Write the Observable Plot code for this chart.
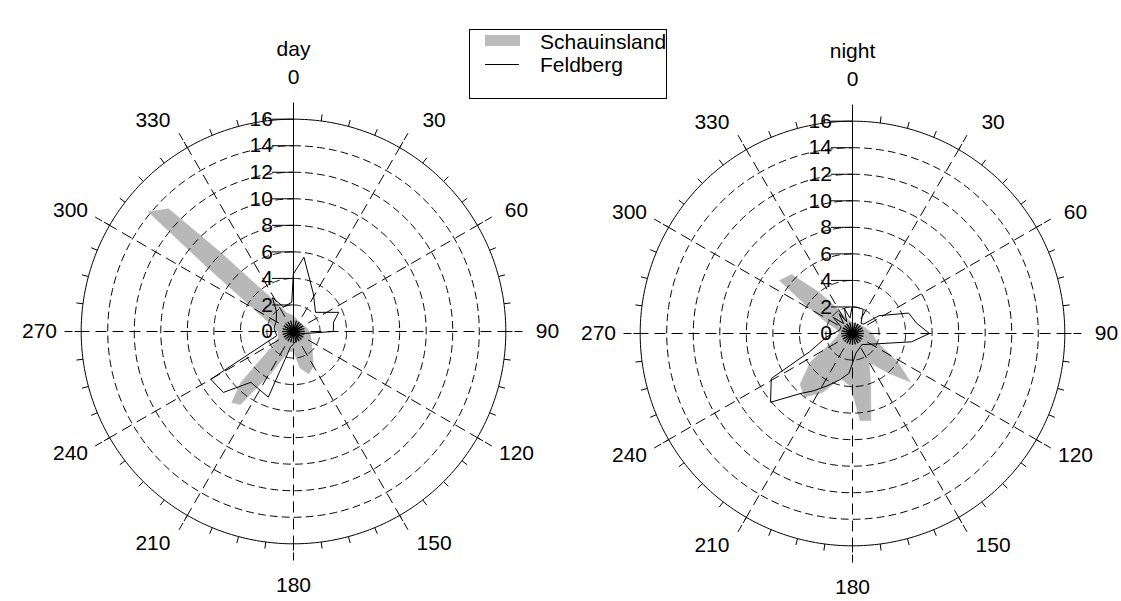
<!DOCTYPE html>
<html>
<head>
<meta charset="utf-8">
<script src="https://cdn.jsdelivr.net/npm/d3@7"></script>
<script src="https://cdn.jsdelivr.net/npm/@observablehq/plot@0.6"></script>
<style>
  body { margin: 0; background: #fff; font-family: "Liberation Sans", Arial, sans-serif; }
  #wrap { position: relative; width: 1121px; height: 601px; overflow: hidden; }
  #legend { position: absolute; left: 469px; top: 29px; width: 198px; height: 70px; border: 1px solid #000; background: #fff; box-sizing: border-box; }
  #legend .sw { position: absolute; left: 15px; top: 5px; width: 35px; height: 11px; background: #bcbcbc; }
  #legend .ln { position: absolute; left: 15px; top: 34px; width: 34px; height: 0; border-top: 1px solid #000; }
  #legend .t { position: absolute; left: 70px; font-size: 21px; line-height: 21px; color: #000; }
</style>
</head>
<body>
<div id="wrap"></div>
<script>
// ---- data ----
const panels = ["day", "night"];
const angleTickLabels = [0, 30, 60, 90, 120, 150, 180, 210, 240, 270, 300, 330];
const radialTickLabels = [0, 2, 4, 6, 8, 10, 12, 14, 16];
const legendLabels = ["Schauinsland", "Feldberg"];

// day – Schauinsland (filled)
const daySchauinslandDir = [0, 20, 45, 70, 90, 110, 135, 150, 160, 170, 180, 195, 208, 216, 221, 226, 235, 250, 270, 285, 297.5, 303.5, 306.6, 309.5, 314.5, 317.4, 320.5, 326.5, 340];
const daySchauinslandVal = [1.2, 0.9, 0.8, 1.0, 1.2, 1.4, 2.0, 3.0, 3.4, 2.8, 1.5, 1.6, 3.5, 6.8, 7.1, 5.5, 2.0, 1.2, 1.2, 1.6, 3.0, 5.0, 8.0, 14.2, 13.2, 8.0, 5.0, 3.0, 1.5];
// day – Feldberg (line)
const dayFeldbergDir = [0, 8, 28, 49, 67, 77, 90, 92, 110, 140, 170, 191, 201, 220, 229, 240, 256, 280, 300, 320, 328, 338, 350, 356];
const dayFeldbergVal = [4.35, 5.65, 3.2, 2.2, 3.7, 3.1, 3.0, 2.0, 0.5, 0.5, 0.8, 1.2, 5.3, 5.0, 7.0, 7.2, 1.3, 1.5, 1.5, 2.0, 3.0, 2.0, 2.1, 2.2];
// night – Schauinsland (filled)
const nightSchauinslandDir = [0, 30, 60, 90, 110, 122, 130, 138, 150, 160, 168, 175, 182, 195, 207, 217, 226, 236, 250, 270, 285, 292, 301, 306, 314, 321, 330, 340];
const nightSchauinslandVal = [0.8, 0.8, 1.0, 1.5, 2.0, 4.0, 5.7, 4.0, 2.5, 4.0, 6.7, 6.6, 4.0, 3.5, 5.0, 6.0, 5.5, 3.8, 1.5, 1.0, 1.2, 2.0, 4.0, 6.8, 6.4, 4.0, 2.0, 1.2];
// night – Feldberg (line)
const nightFeldbergDir = [0, 10, 24, 40, 50, 56, 70, 81, 90, 98, 140, 170, 185, 195, 206, 214, 221, 230, 241, 247, 262, 285, 300, 310, 318, 326, 334, 342, 350];
const nightFeldbergVal = [2.0, 2.0, 2.0, 1.0, 1.1, 2.4, 4.5, 4.9, 5.8, 4.5, 1.1, 1.5, 3.0, 3.6, 4.4, 5.2, 6.0, 8.06, 7.0, 3.5, 2.0, 1.0, 1.0, 1.9, 1.0, 1.8, 1.0, 2.0, 1.2];

// ---- layout ----
const k = 13.27;                 // px per unit
const W = 1121, H = 601;
const originPx = [293, 331];     // day panel centre in px
const centre = {day: [0, 0], night: [(852 - 293) / k, (331 - 333) / k]};
const rMax = 16, rSpoke = 229 / k, rTick = 16.5, rLabel = 254 / k;

const rad = d => d * Math.PI / 180;
const P = (panel, dir, r) => ({x: centre[panel][0] + r * Math.sin(rad(dir)), y: centre[panel][1] + r * Math.cos(rad(dir))});

const seriesList = [
  {panel: "day", name: "Schauinsland", dir: daySchauinslandDir, val: daySchauinslandVal},
  {panel: "day", name: "Feldberg", dir: dayFeldbergDir, val: dayFeldbergVal},
  {panel: "night", name: "Schauinsland", dir: nightSchauinslandDir, val: nightSchauinslandVal},
  {panel: "night", name: "Feldberg", dir: nightFeldbergDir, val: nightFeldbergVal}
];
const pts = seriesList.flatMap(s => s.dir.map((d, i) => ({...P(s.panel, d, s.val[i]), key: s.panel + "-" + s.name, name: s.name})));
const fillPts = pts.filter(p => p.name === "Schauinsland");
const linePts = pts.filter(p => p.name === "Feldberg");

// grid geometry
const circles = panels.flatMap(pn => radialTickLabels.filter(r => r > 0).flatMap(r =>
  d3.range(0, 360, 1).map(a => ({...P(pn, a, r), key: pn + r, r}))));
const dashedCircles = circles.filter(c => c.r < rMax);
const outerCircle = circles.filter(c => c.r === rMax);
const seg = (pn, a, r0, r1) => { const p0 = P(pn, a, r0), p1 = P(pn, a, r1); return {x1: p0.x, y1: p0.y, x2: p1.x, y2: p1.y, a}; };
const spokes = panels.flatMap(pn => angleTickLabels.map(a => seg(pn, a, 0, rSpoke)));
const ticks = panels.flatMap(pn => d3.range(0, 360, 7.5).map(a => seg(pn, a, rMax, rTick)));
const star = panels.flatMap(pn => d3.range(0, 360, 15).map(a => seg(pn, a, 0, 0.85)));
// labels are nudged slightly away from the vertical axis, as in the original
const labelShift = a => {
  const m = a % 180, dv = Math.min(m, 180 - m);   // distance from vertical axis
  const s = dv === 30 ? 3.6 : dv === 60 ? 1.4 : 0;
  return s * Math.sign(Math.sin(rad(2 * a)));
};
const angleLabels = panels.flatMap(pn => angleTickLabels.map(a => ({...P(pn, a + labelShift(a), rLabel), text: String(a)})));
const radialLabels = panels.flatMap(pn => radialTickLabels.map(r => ({x: centre[pn][0], y: centre[pn][1] + r, r, text: String(r)})));
const titles = panels.map(pn => ({x: centre[pn][0], y: centre[pn][1] + (331 - 49) / k, text: pn}));

const font = "Liberation Sans, Arial, Helvetica, sans-serif";
const chart = Plot.plot({
  width: W, height: H,
  margin: 0,
  x: {domain: [-originPx[0] / k, (W - originPx[0]) / k], range: [0, W], axis: null},
  y: {domain: [-(H - originPx[1]) / k, originPx[1] / k], range: [H, 0], axis: null},
  style: {fontFamily: font, background: "#fff"},
  marks: [
    Plot.line(fillPts, {x: "x", y: "y", z: "key", fill: "#b8b8b8", stroke: "#b8b8b8", strokeWidth: 0.5, curve: "linear-closed"}),
    Plot.line(dashedCircles, {x: "x", y: "y", z: "key", stroke: "#000", strokeWidth: 1, strokeDasharray: "7,5", curve: "linear-closed"}),
    Plot.line(outerCircle, {x: "x", y: "y", z: "key", stroke: "#000", strokeWidth: 1, curve: "linear-closed"}),
    Plot.link(spokes.filter(s => s.a !== 0), {x1: "x1", y1: "y1", x2: "x2", y2: "y2", stroke: "#000", strokeWidth: 1, strokeDasharray: "11,6"}),
    Plot.link(spokes.filter(s => s.a === 0), {x1: "x1", y1: "y1", x2: "x2", y2: "y2", stroke: "#000", strokeWidth: 1}),
    Plot.link(ticks, {x1: "x1", y1: "y1", x2: "x2", y2: "y2", stroke: "#000", strokeWidth: 1}),
    Plot.link(star, {x1: "x1", y1: "y1", x2: "x2", y2: "y2", stroke: "#000", strokeWidth: 1.3}),
    Plot.link(radialLabels.filter(d => d.r > 0), {x1: d => d.x - 1.62, x2: "x", y1: "y", y2: "y", stroke: "#000", strokeWidth: 1}),
    Plot.line(linePts, {x: "x", y: "y", z: "key", stroke: "#000", strokeWidth: 1, curve: "linear-closed"}),
    Plot.text(radialLabels, {x: d => d.x - 1.55, y: "y", text: "text", textAnchor: "end", fontSize: 21, fill: "#000"}),
    Plot.text(angleLabels, {x: "x", y: "y", text: "text", fontSize: 21, fill: "#000"}),
    Plot.text(titles, {x: "x", y: "y", text: "text", fontSize: 21, fill: "#000"})
  ]
});
const wrap = document.getElementById("wrap");
wrap.appendChild(chart);

const legend = document.createElement("div");
legend.id = "legend";
legend.innerHTML = `<div class="sw"></div><div class="t" style="top:1px">${legendLabels[0]}</div>
  <div class="ln"></div><div class="t" style="top:24px">${legendLabels[1]}</div>`;
wrap.appendChild(legend);
</script>
</body>
</html>
